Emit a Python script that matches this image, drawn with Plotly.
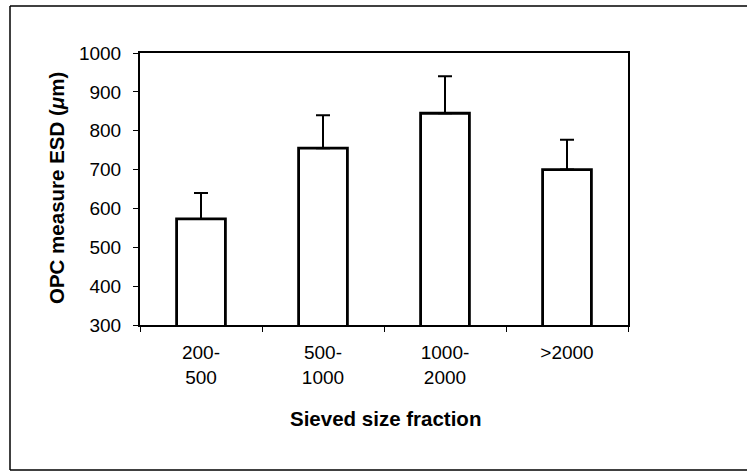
import plotly.graph_objects as go

# Sieved size fractions and optical particle counter results
fractions = ["200-<br>500", "500-<br>1000", "1000-<br>2000", ">2000"]
esd_mean = [573, 755, 845, 700]
esd_err_up = [67, 85, 95, 77]

W, H = 747, 471
L, R, T, B = 140, 119, 53, 146
pw, ph = W - L - R, H - T - B


def px_x(x):
    return (x - L) / pw


def px_y(y):
    return (H - B - y) / ph


fig = go.Figure()
fig.add_trace(go.Bar(
    x=fractions,
    y=esd_mean,
    width=0.4,
    marker=dict(color="white", line=dict(color="black", width=2.8)),
    error_y=dict(type="data", array=esd_err_up, symmetric=False,
                 arrayminus=[0] * len(esd_err_up),
                 color="black", thickness=2, width=7),
    showlegend=False,
))

font_tick = dict(family="Liberation Sans, Arial, sans-serif", size=19, color="black")
font_title = dict(family="Liberation Sans, Arial, sans-serif", size=20.5, color="black")

fig.update_layout(
    width=W, height=H,
    margin=dict(l=L, r=R, t=T, b=B, pad=0),
    paper_bgcolor="white", plot_bgcolor="white",
    bargap=0.6,
    xaxis=dict(
        type="category", range=[-0.5, 3.5],
        showline=True, linecolor="black", linewidth=2, mirror=True,
        ticks="outside", tickson="boundaries", ticklen=5, tickcolor="black", tickwidth=1,
        tickfont=font_tick, showgrid=False, zeroline=False,
        ticklabelstandoff=9,
    ),
    yaxis=dict(
        range=[300, 1000], dtick=100, tick0=300,
        showline=True, linecolor="black", linewidth=2, mirror=True,
        ticks="outside", ticklen=5, tickcolor="black", tickwidth=1,
        tickfont=font_tick, showgrid=False, zeroline=False,
        ticklabelstandoff=8,
    ),
    annotations=[
        dict(text="<b>Sieved size fraction</b>", xref="paper", yref="paper",
             x=px_x(385), y=px_y(418), xanchor="center", yanchor="middle",
             showarrow=False, font=font_title),
        dict(text="<b>OPC measure ESD (<i>μ</i>m)</b>", xref="paper", yref="paper",
             x=px_x(56), y=px_y(188), xanchor="center", yanchor="middle",
             textangle=-90, showarrow=False, font=font_title),
    ],
    shapes=[
        # outer chart frame
        dict(type="line", xref="paper", yref="paper", x0=px_x(10), x1=px_x(750),
             y0=px_y(6), y1=px_y(6), line=dict(color="black", width=1.5)),
        dict(type="line", xref="paper", yref="paper", x0=px_x(10), x1=px_x(10),
             y0=px_y(6), y1=px_y(470), line=dict(color="black", width=1.5)),
        dict(type="line", xref="paper", yref="paper", x0=px_x(10), x1=px_x(750),
             y0=px_y(470), y1=px_y(470), line=dict(color="black", width=1.5)),
    ],
)

fig.write_html("out.html")
